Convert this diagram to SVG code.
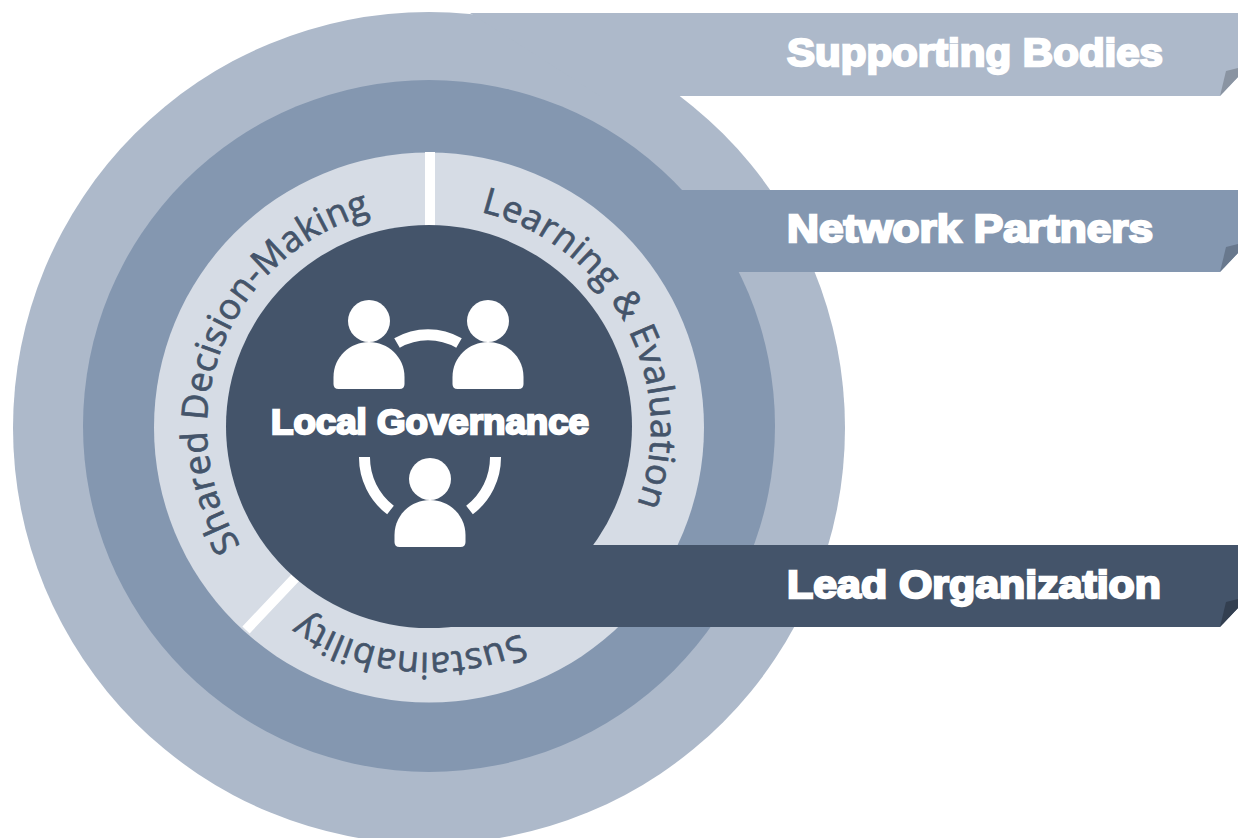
<svg xmlns="http://www.w3.org/2000/svg" width="1238" height="838" viewBox="0 0 1238 838">
<style>
.lbl{font-family:"Liberation Sans",Arial,sans-serif;font-weight:700;fill:#fff;stroke:#fff;stroke-width:2.3}
.ring{font-family:"Open Sans","Noto Sans",sans-serif;font-size:36px;letter-spacing:.4px;fill:#44546a;stroke:#44546a;stroke-width:.7}
.p{fill:#fff}
.arc{fill:none;stroke:#fff;stroke-width:11}
</style>
<defs>
<path id="pShared" d="M 240.700 545.600 A 222 222 0 0 1 429 206"/>
<path id="pLearn" d="M 480.800 212.100 A 222 222 0 0 1 630 521.800"/>
<path id="pSust" d="M 520.500 633.500 A 225 225 0 0 1 270 587"/>
<g id="person"><circle cx="0" cy="-26" r="21"/><path d="M-35.500 37 V30 C-35.500 10 -19 -5 0 -5 C19 -5 35.500 10 35.500 30 V37 Q35.500 42 30.500 42 H-30.500 Q-35.500 42 -35.500 37 Z"/></g>
</defs>
<g id="supporting-bodies">
<circle cx="429" cy="428" r="416" fill="#adb9ca"/>
<path d="M470 13 H1238 V77 L1220 96 H600 Z" fill="#adb9ca"/>
<path d="M1220 96 L1226 71 L1238 68 V77 Z" fill="#8a94a2"/>
<text class="lbl" x="787" y="66" font-size="39" textLength="376" lengthAdjust="spacingAndGlyphs">Supporting Bodies</text>
</g>
<g id="network-partners">
<circle cx="429" cy="426" r="346" fill="#8497b0"/>
<path d="M600 190 H1238 V253 L1220 272 H600 Z" fill="#8497b0"/>
<path d="M1220 272 L1226 247 L1238 244 V253 Z" fill="#68788d"/>
<text class="lbl" x="787" y="242" font-size="39" textLength="366" lengthAdjust="spacingAndGlyphs">Network Partners</text>
</g>
<g id="practices">
<circle cx="429" cy="427.500" r="275" fill="#d6dce5"/>
<text class="ring"><textPath href="#pShared">Shared Decision-Making</textPath></text>
<text class="ring"><textPath href="#pLearn">Learning &amp; Evaluation</textPath></text>
<text class="ring"><textPath href="#pSust">Sustainability</textPath></text>
<path d="M430 152 V230 M246 630 L296 577" stroke="#fff" stroke-width="10" fill="none"/>
</g>
<g id="lead-organization">
<ellipse cx="429" cy="426.500" rx="203" ry="201.500" fill="#44546a"/>
<path d="M429 545 H1238 V608 L1220 627 H429 Z" fill="#44546a"/>
<path d="M1220 627 L1226 602 L1238 599 V608 Z" fill="#333f50"/>
<text class="lbl" x="787" y="598" font-size="39" textLength="374" lengthAdjust="spacingAndGlyphs">Lead Organization</text>
</g>
<g id="local-governance">
<use href="#person" x="369" y="347" class="p"/>
<use href="#person" x="488" y="347" class="p"/>
<use href="#person" x="430" y="505" class="p"/>
<path class="arc" d="M397 343 A62 62 0 0 1 459 343"/>
<path class="arc" d="M364.500 457 A66 66 0 0 0 390.500 510 M495.500 457 A66 66 0 0 1 469.500 510"/>
<text class="lbl" x="271" y="434" font-size="35" textLength="318" lengthAdjust="spacingAndGlyphs">Local Governance</text>
</g>
</svg>
